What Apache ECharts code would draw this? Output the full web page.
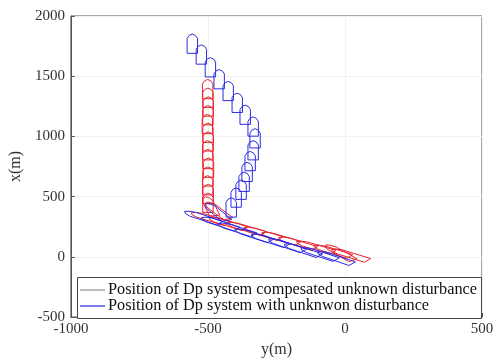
<!DOCTYPE html>
<html>
<head>
<meta charset="utf-8">
<script src="https://cdn.jsdelivr.net/npm/echarts@6/dist/echarts.min.js"></script>
<style>
  html, body { margin: 0; padding: 0; background: #fff; }
  #chart { width: 501px; height: 363px; }
</style>
</head>
<body>
<div id="chart"></div>
<script>
// ship poses: east y(m), north x(m), heading (deg from north)
const redEast = [17, -48, -110, -176, -237, -303, -364, -430, -495, -20,
  -466, -492,
  -500, -499, -501, -500, -498, -500, -501, -499, -500, -502, -500, -499, -500, -501];
const redNorth = [16, 49, 82, 115, 156, 197, 238, 279, 320, 35,
  385, 420,
  449, 522, 594, 667, 740, 812, 885, 958, 1030, 1103, 1176, 1248, 1321, 1393];
const redHeading = [-55, -55, -56, -55, -56, -55, -56, -55, -55, -38,
  -30, -12,
  0, 0, 0, 0, 0, 0, 0, 0, 0, 0, 0, 0, 0, 0];

const blueEast = [-37, -96, -157, -215, -277, -335, -397, -459, -521,
  -468,
  -415, -397, -379, -368, -357, -346, -335, -328, -335, -364, -393, -426, -459, -491, -524, -557];
const blueNorth = [-8, 25, 57, 98, 139, 180, 230, 279, 328,
  372,
  410, 492, 557, 623, 705, 795, 885, 984, 1082, 1180, 1279, 1377, 1475, 1574, 1680, 1770];
const blueHeading = [-52, -53, -53, -52, -54, -53, -54, -53, -53,
  -28,
  0, 0, 0, 0, 0, 0, 0, 0, 0, 0, 0, 0, 0, 0, 0, 0];

const xTicks = [-1000, -500, 0, 500];
const yTicks = [-500, 0, 500, 1000, 1500, 2000];

const names = ['Position of Dp system compesated unknown disturbance',
  'Position of Dp system with unknwon disturbance'];

// hull outline in ship frame (along, across), metres
const shipL = 160, shipW = 38;
const hull = [
  [-shipL / 2, -shipW / 2], [shipL * 0.27, -shipW / 2], [shipL * 0.43, -shipW * 0.3],
  [shipL / 2, 0], [shipL * 0.43, shipW * 0.3], [shipL * 0.27, shipW / 2],
  [-shipL / 2, shipW / 2]
];

function zip(e, n, h) {
  return e.map((v, i) => [v, n[i], h[i]]);
}

function shipRenderer(color) {
  return function (params, api) {
    const east = api.value(0), north = api.value(1);
    const psi = api.value(2) * Math.PI / 180;
    const pts = hull.map(([s, t]) => api.coord([
      east + s * Math.sin(psi) + t * Math.cos(psi),
      north + s * Math.cos(psi) - t * Math.sin(psi)
    ]));
    return {
      type: 'polygon',
      shape: { points: pts },
      style: { fill: 'none', stroke: color, lineWidth: 1 }
    };
  };
}

const serif = 'Liberation Serif';
const plain = (v) => String(v);
const chart = echarts.init(document.getElementById('chart'));
chart.setOption({
  animation: false,
  backgroundColor: '#fff',
  grid: { left: 69, right: 19, top: 16, bottom: 42, show: true, borderColor: '#555', borderWidth: 1 },
  xAxis: {
    type: 'value', min: xTicks[0], max: xTicks[xTicks.length - 1], interval: 500,
    name: 'y(m)', nameLocation: 'middle', nameGap: 25,
    nameTextStyle: { fontFamily: serif, fontSize: 16, color: '#333' },
    axisLine: { show: true, onZero: false, lineStyle: { color: '#555' } },
    axisTick: { inside: true, length: 4, lineStyle: { color: '#555' } },
    axisLabel: { fontFamily: serif, fontSize: 15, color: '#333', margin: 5, formatter: plain },
    splitLine: { show: true, lineStyle: { color: '#f1f1f1' } }
  },
  yAxis: {
    type: 'value', min: yTicks[0], max: yTicks[yTicks.length - 1], interval: 500,
    name: 'x(m)', nameLocation: 'middle', nameGap: 38, nameRotate: 90,
    nameTextStyle: { fontFamily: serif, fontSize: 16, color: '#333' },
    axisLine: { show: true, onZero: false, lineStyle: { color: '#555' } },
    axisTick: { inside: true, length: 4, lineStyle: { color: '#555' } },
    axisLabel: { fontFamily: serif, fontSize: 15, color: '#333', margin: 6, formatter: plain },
    splitLine: { show: true, lineStyle: { color: '#f1f1f1' } }
  },
  graphic: [{
    type: 'rect', left: 77, top: 277, z: 3,
    shape: { width: 404, height: 41 },
    style: { fill: '#fff', stroke: '#444', lineWidth: 1 }
  }],
  legend: {
    orient: 'vertical', left: 80, top: 282, z: 4,
    itemWidth: 25, itemHeight: 1.5, itemGap: 0, padding: 0,
    textStyle: { fontFamily: serif, fontSize: 16.3, lineHeight: 16, color: '#111', padding: [0, 0, 0, -2] },
    data: [
      { name: names[0], icon: 'rect', itemStyle: { color: '#a8a8a8' } },
      { name: names[1], icon: 'rect', itemStyle: { color: '#5050e0' } }
    ]
  },
  series: [
    {
      name: names[0], type: 'custom', itemStyle: { color: '#a8a8a8' },
      encode: { x: 0, y: 1 }, data: zip(redEast, redNorth, redHeading),
      renderItem: shipRenderer('#e8222e'), z: 2
    },
    {
      name: names[1], type: 'custom', itemStyle: { color: '#5050e0' },
      encode: { x: 0, y: 1 }, data: zip(blueEast, blueNorth, blueHeading),
      renderItem: shipRenderer('#2b2be0'), z: 2
    }
  ]
});
</script>
</body>
</html>
